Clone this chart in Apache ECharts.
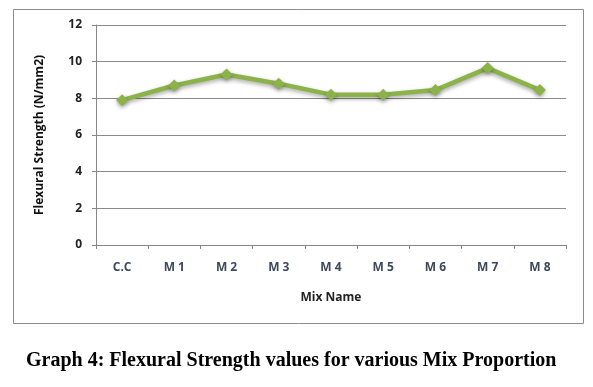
<!DOCTYPE html>
<html><head><meta charset="utf-8">
<script src="https://cdn.jsdelivr.net/npm/echarts@6/dist/echarts.min.js"></script>
<style>html,body{margin:0;padding:0;background:#fff}#c{width:593px;height:387px}</style>
</head><body><div id="c"></div>
<script>
const categories = ["C.C","M 1","M 2","M 3","M 4","M 5","M 6","M 7","M 8"];
const strengthValues = [7.9, 8.7, 9.3, 8.8, 8.2, 8.2, 8.45, 9.65, 8.45];
const yTicks = [0, 2, 4, 6, 8, 10, 12];

const chart = echarts.init(document.getElementById('c'), null, {renderer:'canvas'});
chart.setOption({
  animation:false,
  backgroundColor:'#fff',
  title:{
    text:'Graph 4: Flexural Strength values for various Mix Proportion',
    left:21, top:346,
    textStyle:{fontFamily:'Liberation Serif', fontWeight:'bold', fontSize:20, color:'#000'}
  },
  graphic:[{type:'rect', shape:{x:13.5,y:9.5,width:570,height:314}, style:{fill:'none', stroke:'#8c8c8c', lineWidth:1}}],
  grid:{left:96, right:27, top:25, bottom:142, containLabel:false},
  xAxis:{
    type:'category', data:categories, boundaryGap:true,
    name:'Mix Name', nameLocation:'middle', nameGap:47,
    nameTextStyle:{fontFamily:'Open Sans', fontWeight:'bold', fontSize:12, color:'#222'},
    axisLine:{lineStyle:{color:'#868686', width:1}},
    axisTick:{show:true, length:4, alignWithLabel:false, lineStyle:{color:'#868686'}},
    axisLabel:{fontFamily:'Open Sans', fontWeight:'bold', fontSize:12, color:'#3c4a5c', margin:17}
  },
  yAxis:{
    type:'value', min:yTicks[0], max:yTicks[yTicks.length-1], interval:2,
    name:'Flexural Strength (N/mm2)', nameLocation:'middle', nameGap:50, nameRotate:90,
    nameTextStyle:{fontFamily:'Open Sans', fontWeight:'bold', fontSize:12, color:'#111'},
    axisLine:{show:true, lineStyle:{color:'#868686'}},
    axisTick:{show:true, length:4, lineStyle:{color:'#868686'}},
    axisLabel:{fontFamily:'Open Sans', fontWeight:'bold', fontSize:12, color:'#222', margin:14},
    splitLine:{lineStyle:{color:'#8a8a8a', width:1}}
  },
  series:[{
    type:'line', data:strengthValues,
    symbol:'diamond', symbolSize:12,
    lineStyle:{color:'#8cb24a', width:4.5, shadowColor:'rgba(0,0,0,0.35)', shadowBlur:4, shadowOffsetY:2},
    itemStyle:{color:'#8cb24a', shadowColor:'rgba(0,0,0,0.35)', shadowBlur:4, shadowOffsetY:2}
  }]
});
</script></body></html>
